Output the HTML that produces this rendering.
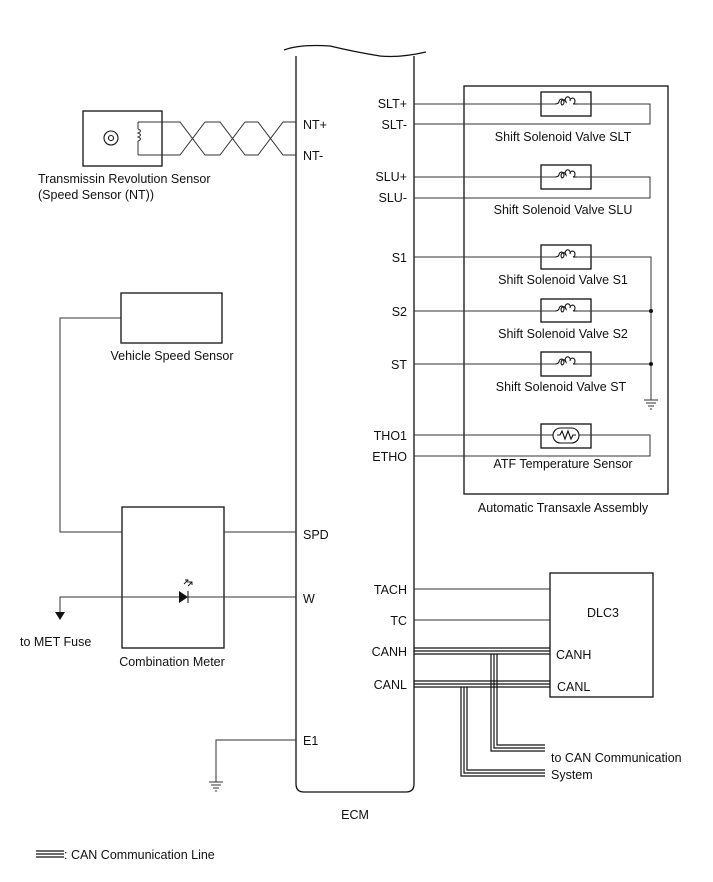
<!DOCTYPE html>
<html><head><meta charset="utf-8"><style>
html,body{margin:0;padding:0;background:#fff}
svg{display:block}
text{font-family:"Liberation Sans",Arial,sans-serif;font-size:12.5px;fill:#111}
</style></head><body>
<svg width="713" height="882" viewBox="0 0 713 882" xmlns="http://www.w3.org/2000/svg">
<g fill="none" stroke="#111" stroke-width="1.3">
<path d="M296,56 V784 Q296,792 304,792 H406 Q414,792 414,784 V56"/>
<path d="M284,50 Q300,44 330,46 Q355,52 380,56 Q400,58 426,52"/>
<rect x="464" y="86" width="204" height="408"/>
<rect x="541" y="92" width="50" height="24"/>
<rect x="541" y="165" width="50" height="24"/>
<rect x="541" y="245" width="50" height="24"/>
<rect x="541" y="299" width="50" height="23"/>
<rect x="541" y="352" width="50" height="24"/>
<rect x="541" y="424" width="50" height="24"/>
<rect x="83" y="111" width="79" height="55"/>
<rect x="121" y="293" width="101" height="50"/>
<rect x="122" y="507" width="102" height="141"/>
<rect x="550" y="573" width="103" height="124"/>
</g>
<g fill="none" stroke="#333" stroke-width="1">
<path d="M414,104 H555 M577,104 H650 V124 H414"/>
<path d="M414,177 H555 M577,177 H650 V198 H414"/>
<path d="M414,435 H553 M579,435 H650 V456 H414"/>
<path d="M414,257 H555 M577,257 H651 V400"/>
<path d="M414,311 H555 M577,311 H651"/>
<path d="M414,364 H555 M577,364 H651"/>
<path d="M644,400 H658 M646,403 H656 M648,406 H654 M650,409 H652"/>
<g stroke="#111" stroke-width="1.1">
<path d="M555,104 q3,0 4,-2 a2.5,3 0 1 1 3,3 a2.5,3 0 1 1 4,-3 a2.5,3 0 1 1 4,-1 a2.5,3 0 1 1 3,3 q1,0 4,0" />
<path d="M555,177 q3,0 4,-2 a2.5,3 0 1 1 3,3 a2.5,3 0 1 1 4,-3 a2.5,3 0 1 1 4,-1 a2.5,3 0 1 1 3,3 q1,0 4,0" />
<path d="M555,257 q3,0 4,-2 a2.5,3 0 1 1 3,3 a2.5,3 0 1 1 4,-3 a2.5,3 0 1 1 4,-1 a2.5,3 0 1 1 3,3 q1,0 4,0" />
<path d="M555,311 q3,0 4,-2 a2.5,3 0 1 1 3,3 a2.5,3 0 1 1 4,-3 a2.5,3 0 1 1 4,-1 a2.5,3 0 1 1 3,3 q1,0 4,0" />
<path d="M555,364 q3,0 4,-2 a2.5,3 0 1 1 3,3 a2.5,3 0 1 1 4,-3 a2.5,3 0 1 1 4,-1 a2.5,3 0 1 1 3,3 q1,0 4,0" />
<rect x="553" y="428" width="26" height="15" rx="7.5"/>
<path d="M557,435 l3,0 l2,-4 l3,8 l3,-8 l3,8 l2,-4 l3,0"/>
<circle cx="111" cy="138" r="7"/><circle cx="111" cy="138" r="2.5"/>
</g>
<path d="M138,122 V129 M138,129 q5,2 0,4 q5,2 0,4 q5,2 0,4 M138,141 V155"/>
<path d="M138,122 H180 L205,155 H220 L245,122 H258 L283,155 H296"/>
<path d="M138,155 H180 L205,122 H220 L245,155 H258 L283,122 H296"/>
<path d="M121,318 H60 V532 H122"/>
<path d="M224,532 H296"/>
<path d="M296,597 H187"/>
<path d="M180,597 H60 V614"/>
<path d="M188,591 V603" stroke="#111"/>
<path d="M296,740 H216 V782 M209,782 H223 M211,785 H221 M213,788 H219 M215,791 H217"/>
<path d="M414,589 H550 M414,620 H550"/>
</g>
<path d="M179,591 L188,597 L179,603 Z" fill="#111"/>
<path d="M55,612 L65,612 L60,620 Z" fill="#111"/>
<path d="M184,584 l4,-4 m-3,0 h3 v3 M188,586 l4,-4 m-3,0 h3 v3" fill="none" stroke="#111" stroke-width="0.9"/>
<circle cx="651" cy="311" r="2" fill="#111"/>
<circle cx="651" cy="364" r="2" fill="#111"/>
<!-- CAN lines -->
<g fill="none" stroke="#111" stroke-width="1.2">
<path d="M414,648 H550 M414,651 H550 M414,654 H550"/>
<path d="M491,654 V751 H545 M494,654 V748 H545 M497,654 V745 H545"/>
<path d="M414,681 H550 M414,684 H550 M414,687 H550"/>
<path d="M461,687 V776 H545 M464,687 V773 H545 M467,687 V770 H545"/>
<path d="M36,851 H64 M36,854 H64 M36,857 H64"/>
</g>
<text x="407" y="108" text-anchor="end">SLT+</text>
<text x="407" y="129" text-anchor="end">SLT-</text>
<text x="407" y="181" text-anchor="end">SLU+</text>
<text x="407" y="202" text-anchor="end">SLU-</text>
<text x="407" y="262" text-anchor="end">S1</text>
<text x="407" y="316" text-anchor="end">S2</text>
<text x="407" y="369" text-anchor="end">ST</text>
<text x="407" y="440" text-anchor="end">THO1</text>
<text x="407" y="461" text-anchor="end">ETHO</text>
<text x="407" y="594" text-anchor="end">TACH</text>
<text x="407" y="625" text-anchor="end">TC</text>
<text x="407" y="656" text-anchor="end">CANH</text>
<text x="407" y="689" text-anchor="end">CANL</text>
<text x="303" y="129">NT+</text>
<text x="303" y="160">NT-</text>
<text x="303" y="539">SPD</text>
<text x="303" y="603">W</text>
<text x="303" y="745">E1</text>
<text x="563" y="141" text-anchor="middle">Shift Solenoid Valve SLT</text>
<text x="563" y="214" text-anchor="middle">Shift Solenoid Valve SLU</text>
<text x="563" y="284" text-anchor="middle">Shift Solenoid Valve S1</text>
<text x="563" y="338" text-anchor="middle">Shift Solenoid Valve S2</text>
<text x="561" y="391" text-anchor="middle">Shift Solenoid Valve ST</text>
<text x="563" y="468" text-anchor="middle">ATF Temperature Sensor</text>
<text x="563" y="512" text-anchor="middle">Automatic Transaxle Assembly</text>
<text x="38" y="183">Transmissin Revolution Sensor</text>
<text x="38" y="199">(Speed Sensor (NT))</text>
<text x="172" y="360" text-anchor="middle">Vehicle Speed Sensor</text>
<text x="172" y="666" text-anchor="middle">Combination Meter</text>
<text x="20" y="646">to MET Fuse</text>
<text x="587" y="617">DLC3</text>
<text x="556" y="659">CANH</text>
<text x="557" y="691">CANL</text>
<text x="551" y="762">to CAN Communication</text>
<text x="551" y="779">System</text>
<text x="355" y="819" text-anchor="middle">ECM</text>
<text x="64" y="859">: CAN Communication Line</text>
</svg>
</body></html>
